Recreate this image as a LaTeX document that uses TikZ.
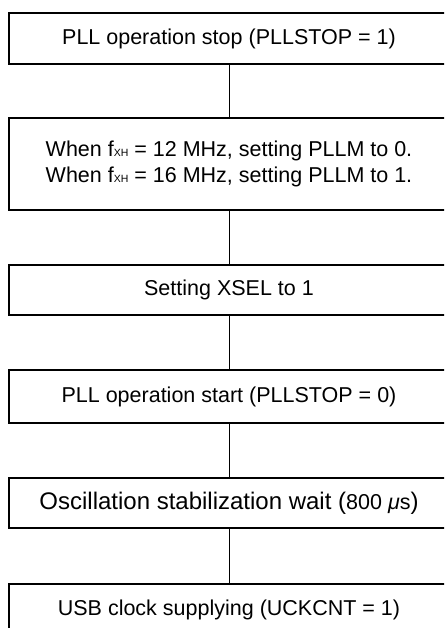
\documentclass[tikz,border=0pt]{standalone}
\usepackage{fontspec}
\setmainfont{Liberation Sans}
\begin{document}
\begin{tikzpicture}[x=1pt,y=1pt,
  box/.style={draw, line width=1.6pt, minimum width=440pt, inner sep=0pt,
    anchor=center, align=center, font=\fontsize{21.5}{21.5}\selectfont},
  link/.style={line width=1pt}]
\useasboundingbox (0,0) rectangle (444,-628);
\clip (0,0) rectangle (444,-628);
\node[box, minimum height=51pt] (b1) at (229,-38.5) {PLL operation stop (PLLSTOP = 1)};
\node[box, minimum height=92pt] (b2) at (229,-164) {When f{\fontsize{10.5}{10.5}\selectfont XH} = 12 MHz, setting PLLM to 0.\\[5pt]When f{\fontsize{10.5}{10.5}\selectfont XH} = 16 MHz, setting PLLM to 1.};
\node[box, minimum height=50pt] (b3) at (229,-290) {Setting XSEL to 1};
\node[box, minimum height=53pt] (b4) at (229,-396.5) {PLL operation start (PLLSTOP = 0)};
\node[box, minimum height=50pt] (b5) at (229,-503) {{\fontsize{24}{24}\selectfont Oscillation stabilization wait (}800 \textit{μ}s{\fontsize{24}{24}\selectfont )}};
\node[box, minimum height=51pt] (b6) at (229,-609.5) {USB clock supplying (UCKCNT = 1)};
\draw[link] (b1.south) -- (b2.north);
\draw[link] (b2.south) -- (b3.north);
\draw[link] (b3.south) -- (b4.north);
\draw[link] (b4.south) -- (b5.north);
\draw[link] (b5.south) -- (b6.north);
\end{tikzpicture}
\end{document}
